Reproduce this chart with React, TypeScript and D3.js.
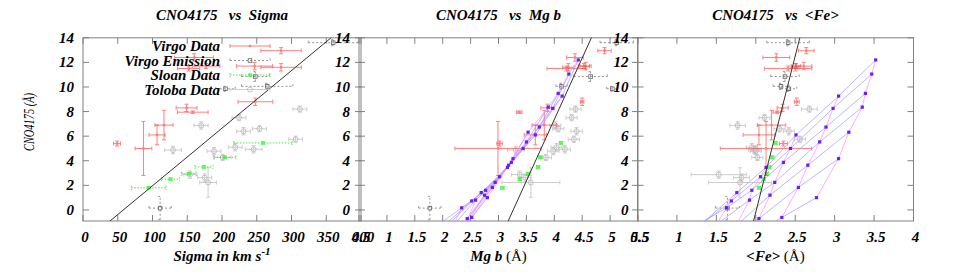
import React, { useRef, useEffect } from "react";
import * as d3 from "d3";

// axis ticks
const cnoTicks = [0, 2, 4, 6, 8, 10, 12, 14];
const sigmaTicks = [0, 50, 100, 150, 200, 250, 300, 350, 400];
const mgbTicks = [0.5, 1, 1.5, 2, 2.5, 3, 3.5, 4, 4.5, 5, 5.5];
const feTicks = [0.5, 1, 1.5, 2, 2.5, 3, 3.5, 4];

const legendLabels = ["Virgo Data", "Virgo Emission", "Sloan Data", "Toloba Data"];

// Virgo data
const virgoCno = [12.95, 12.4, 11.5, 11.7, 11.7, 11.6, 8.8, 8.3, 7.95, 6.9, 6.1, 5.4, 5.0];
const virgoCnoErr = [0.25, 0.3, 0.2, 0.2, 0.3, 0.3, 0.3, 0.3, 0.1, 1.2, 0.8, 0.2, 2.2];
const virgoSigma = [285, 160, 152, 177, 247, 285, 248, 149, 158, 116.5, 106.5, 49, 87];
const virgoSigmaErr = [29, 28, 16, 20, 26, 29, 25, 15, 22, 13, 11.5, 5, 12];
const virgoMgb = [4.9, 4.37, 4.22, 4.53, 4.56, 4.25, 4.5, 3.88, 3.37, 3.82, 3.66, 3.02, 2.99];
const virgoMgbErr = [0.12, 0.15, 0.35, 0.1, 0.1, 0.1, 0.03, 0.12, 0.05, 0.22, 0.2, 0.05, 0.77];
const virgoFe = [2.64, 2.26, 2.41, 2.51, 2.61, 2.5, 2.52, 2.34, 2.27, 2.2, 2.04, 2.35, 2.13];
const virgoFeErr = [0.1, 0.17, 0.3, 0.06, 0.1, 0.05, 0.03, 0.07, 0.05, 0.18, 0.2, 0.05, 0.58];

// Virgo emission
const emisCno = [13.6, 10.85, 10.05, 9.85, 0.15];
const emisCnoErr = [0.25, 0.4, 0.25, 0.2, 0.95];
const emisSigma = [360, 248, 265, 205, 111];
const emisSigmaErr = [36, 20, 37, 14, 16];
const emisMgb = [5.12, 4.65, 4.13, 5.04, 1.77];
const emisMgbErr = [0.3, 0.3, 0.1, 0.1, 0.2];
const emisFe = [2.41, 2.37, 2.32, 2.42, 1.64];
const emisFeErr = [0.27, 0.18, 0.1, 0.1, 0.15];

// Sloan
const sloanCno = [5.45, 4.28, 3.5, 2.95, 2.5, 1.8];
const sloanCnoErr = [0.1, 0.1, 0.1, 0.1, 0.1, 0.1];
const sloanSigma = [259, 204, 174, 152, 126, 94.5];
const sloanSigmaErr = [42, 16, 13, 10.5, 13, 25];
const sloanMgb = [4.12, 3.75, 3.71, 3.53, 3.38, 3.07];
const sloanMgbErr = [0.03, 0.03, 0.03, 0.03, 0.03, 0.03];
const sloanFe = [2.25, 2.21, 2.17, 2.14, 2.1, 2.04];
const sloanFeErr = [0.02, 0.02, 0.02, 0.02, 0.02, 0.02];

// Toloba
const tolobaCno = [8.2, 7.5, 6.87, 6.6, 6.4, 5.75, 4.87, 5.1, 4.93, 4.78, 4.27, 2.87, 2.63, 2.23];
const tolobaCnoErr = [0.25, 0.25, 0.3, 0.25, 0.3, 0.25, 0.3, 0.3, 0.3, 0.3, 0.25, 0.3, 0.3, 1.2];
const tolobaSigma = [312, 224.5, 170, 254, 231, 306, 129.5, 219, 245.5, 188.5, 201, 154, 175, 180];
const tolobaSigmaErr = [10, 10, 10, 10, 10, 10, 12, 10, 12, 10, 12, 10, 10, 12];
const tolobaMgb = [4.38, 4.31, 4.02, 4.07, 4.4, 4.35, 3.31, 4.04, 4.19, 3.98, 3.85, 3.38, 3.48, 3.58];
const tolobaMgbErr = [0.1, 0.1, 0.1, 0.1, 0.1, 0.1, 0.15, 0.1, 0.1, 0.1, 0.1, 0.15, 0.1, 0.52];
const tolobaFe = [2.68, 2.11, 1.77, 2.3, 2.42, 2.56, 1.98, 1.95, 2.0, 2.0, 2.02, 1.53, 1.82, 1.8];
const tolobaFeErr = [0.1, 0.07, 0.1, 0.07, 0.07, 0.07, 0.07, 0.07, 0.07, 0.07, 0.07, 0.35, 0.1, 0.4];

// SSP model grid: rows = metallicity, cols = age
const modelCno = [
  [12.2, 9.26, 6.1, 3.46, 1.41, -1.1],
  [11.05, 8.26, 5.0, 2.7, 0.73, -1.5],
  [9.48, 6.74, 3.87, 1.6, 0.17, -1.4],
  [8.36, 5.53, 2.24, 0.8, -1.2, -2.5],
  [6.32, 3.64, 1.2, -1.3, -2.5, -3.5],
  [4.17, 1.83, -0.7, -2.8, -3.8, -4.5],
  [1.0, -0.61, -2.3, -4, -5, -6],
];
const modelMgb = [
  [4.43, 4.14, 3.66, 3.16, 2.69, 2.12],
  [4.26, 3.97, 3.44, 3.02, 2.52, 1.96],
  [4.07, 3.73, 3.23, 2.77, 2.34, 1.86],
  [3.89, 3.5, 2.94, 2.59, 2.2, 1.8],
  [3.53, 3.18, 2.75, 2.4, 2.1, 1.8],
  [3.26, 2.89, 2.44, 2.2, 2.0, 1.8],
  [2.8, 2.52, 2.3, 2.1, 1.9, 1.8],
];
const modelFe = [
  [3.52, 3.05, 2.51, 2.13, 1.76, 1.32],
  [3.47, 2.98, 2.44, 2.06, 1.69, 1.25],
  [3.39, 2.89, 2.35, 1.95, 1.63, 1.2],
  [3.35, 2.81, 2.24, 1.92, 1.5, 1.2],
  [3.18, 2.66, 2.18, 1.75, 1.5, 1.3],
  [3.05, 2.54, 2.04, 1.7, 1.5, 1.3],
  [2.77, 2.33, 1.9, 1.6, 1.4, 1.3],
];

// linear fits: [intercept, slope]
const fitSigma = [-2.72, 0.04685];
const fitMgb = [-32.6, 9.99];
const fitFe = [-50.98, 25.4];

const FONT = '"Liberation Serif", "Times New Roman", "DejaVu Serif", serif';

const styles = {
  virgo: { color: "#ff4a4a", dash: null, op: 0.7, marker: "dot" },
  emis: { color: "#8a8a8a", dash: "2,2", op: 0.9, marker: "sq" },
  sloan: { color: "#33dd33", dash: "1.5,1.5", op: 0.85, marker: "fsq" },
  toloba: { color: "#c8c8c8", dash: null, op: 0.9, marker: "circ" },
};

// bold italic serif text helper
const label = (sel, size = 15, bold = true, italic = true) =>
  sel
    .style("font-family", FONT)
    .style("font-size", `${size}px`)
    .style("font-weight", bold ? "bold" : "normal")
    .style("font-style", italic ? "italic" : "normal");

const drawMarker = (g, cx, cy, st) => {
  if (st.marker === "dot") {
    g.append("rect").attr("x", cx - 1.2).attr("y", cy - 1.2).attr("width", 2.4).attr("height", 2.4).attr("fill", st.color);
  } else if (st.marker === "sq") {
    g.append("rect").attr("x", cx - 1.8).attr("y", cy - 1.8).attr("width", 3.6).attr("height", 3.6)
      .attr("fill", "none").attr("stroke", "#555").attr("stroke-width", 0.8);
  } else if (st.marker === "fsq") {
    g.append("rect").attr("x", cx - 1.8).attr("y", cy - 1.8).attr("width", 3.6).attr("height", 3.6).attr("fill", "#3f3");
  } else {
    g.append("circle").attr("cx", cx).attr("cy", cy).attr("r", 2.5)
      .attr("fill", "none").attr("stroke", "#b5b5b5").attr("stroke-width", 0.9);
  }
};

const drawErrSet = (g, xv, xe, yv, ye, x, y, st) => {
  const cap = 2;
  xv.forEach((xd, i) => {
    const cx = x(xd), cy = y(yv[i]);
    const x0 = x(xd - xe[i]), x1 = x(xd + xe[i]);
    const y0 = y(yv[i] - ye[i]), y1 = y(yv[i] + ye[i]);
    const segs = [
      [x0, cy, x1, cy], [cx, y0, cx, y1],
      [x0, cy - cap, x0, cy + cap], [x1, cy - cap, x1, cy + cap],
      [cx - cap, y0, cx + cap, y0], [cx - cap, y1, cx + cap, y1],
    ];
    const gg = g.append("g").attr("opacity", st.op);
    gg.selectAll("line").data(segs).enter().append("line")
      .attr("x1", (d) => d[0]).attr("y1", (d) => d[1]).attr("x2", (d) => d[2]).attr("y2", (d) => d[3])
      .attr("stroke", st.color).attr("stroke-width", 1)
      .attr("stroke-dasharray", st.dash);
    drawMarker(gg, cx, cy, st);
  });
};

const App = () => {
  const ref = useRef(null);

  useEffect(() => {
    const svg = d3.select(ref.current);
    svg.selectAll("*").remove();

    const y = d3.scaleLinear().domain([-0.9, 14]).range([221, 37.8]);

    const panels = [
      {
        x: d3.scaleLinear().domain([0, 400]).range([83, 361]),
        ticks: sigmaTicks, title: "CNO4175   vs  Sigma",
        xs: { virgo: [virgoSigma, virgoSigmaErr], emis: [emisSigma, emisSigmaErr], sloan: [sloanSigma, sloanSigmaErr], toloba: [tolobaSigma, tolobaSigmaErr] },
        model: null, fit: fitSigma, key: "sigma",
      },
      {
        x: d3.scaleLinear().domain([0.5, 5.5]).range([359, 638]),
        ticks: mgbTicks, title: "CNO4175   vs  Mg b",
        xs: { virgo: [virgoMgb, virgoMgbErr], emis: [emisMgb, emisMgbErr], sloan: [sloanMgb, sloanMgbErr], toloba: [tolobaMgb, tolobaMgbErr] },
        model: modelMgb, fit: fitMgb, key: "mgb",
      },
      {
        x: d3.scaleLinear().domain([0.5, 4]).range([637.5, 913.5]),
        ticks: feTicks, title: "CNO4175   vs  <Fe>",
        xs: { virgo: [virgoFe, virgoFeErr], emis: [emisFe, emisFeErr], sloan: [sloanFe, sloanFeErr], toloba: [tolobaFe, tolobaFeErr] },
        model: modelFe, fit: fitFe, key: "fe",
      },
    ];
    const ys = { virgo: [virgoCno, virgoCnoErr], emis: [emisCno, emisCnoErr], sloan: [sloanCno, sloanCnoErr], toloba: [tolobaCno, tolobaCnoErr] };

    const defs = svg.append("defs");

    panels.forEach((p, pi) => {
      const [l, r] = p.x.range();
      const top = y(14), bot = y(-0.9);
      const g = svg.append("g");
      const clipId = `clip${pi}`;
      defs.append("clipPath").attr("id", clipId).append("rect")
        .attr("x", l).attr("y", top).attr("width", r - l).attr("height", bot - top);

      // frame + ticks
      g.append("rect").attr("x", l).attr("y", top).attr("width", r - l).attr("height", bot - top)
        .attr("fill", "none").attr("stroke", "#808080").attr("stroke-width", 1);
      const tl = 6;
      p.ticks.forEach((t) => {
        const tx = p.x(t);
        g.append("line").attr("x1", tx).attr("x2", tx).attr("y1", bot).attr("y2", bot - tl).attr("stroke", "#808080");
        g.append("line").attr("x1", tx).attr("x2", tx).attr("y1", top).attr("y2", top + tl).attr("stroke", "#808080");
        label(g.append("text").attr("x", tx + 2).attr("y", 242).attr("text-anchor", "middle")).text(t);
      });
      cnoTicks.forEach((t) => {
        const ty = y(t);
        g.append("line").attr("x1", l).attr("x2", l + tl).attr("y1", ty).attr("y2", ty).attr("stroke", "#808080");
        g.append("line").attr("x1", r).attr("x2", r - tl).attr("y1", ty).attr("y2", ty).attr("stroke", "#808080");
        label(g.append("text").attr("x", l - 9).attr("y", ty + 5).attr("text-anchor", "end")).text(t);
      });

      // title
      label(g.append("text").attr("x", (l + r) / 2).attr("y", 20).attr("text-anchor", "middle"))
        .style("white-space", "pre")
        .text(p.title);

      // x label
      const xl = label(g.append("text").attr("x", (l + r) / 2).attr("y", 261).attr("text-anchor", "middle"), 15, false, false);
      if (p.key === "sigma") {
        label(xl.append("tspan")).text("Sigma in km s");
        label(xl.append("tspan"), 11).attr("dy", -6).text("-1");
      } else if (p.key === "mgb") {
        label(xl.append("tspan")).text("Mg b ");
        xl.append("tspan").text("(Å)");
      } else {
        label(xl.append("tspan")).text("<Fe> ");
        xl.append("tspan").text("(Å)");
      }

      // data
      const dg = g.append("g").attr("clip-path", `url(#${clipId})`);
      ["toloba", "emis", "sloan", "virgo"].forEach((k) => {
        drawErrSet(dg, p.xs[k][0], p.xs[k][1], ys[k][0], ys[k][1], p.x, y, styles[k]);
      });

      // model grid
      if (p.model) {
        const mx = p.model;
        const line = d3.line().x((d) => p.x(d[0])).y((d) => y(d[1]));
        // constant metallicity (blue)
        mx.forEach((row, ri) => {
          dg.append("path").attr("d", line(row.map((v, ci) => [v, modelCno[ri][ci]])))
            .attr("fill", "none").attr("stroke", "#9a9aff").attr("stroke-width", 0.7);
        });
        // constant age (magenta)
        mx[0].forEach((_, ci) => {
          dg.append("path").attr("d", line(mx.map((row, ri) => [row[ci], modelCno[ri][ci]])))
            .attr("fill", "none").attr("stroke", "#ff88ff").attr("stroke-width", 0.7);
        });
        mx.forEach((row, ri) => row.forEach((v, ci) => {
          dg.append("rect").attr("x", p.x(v) - 1.6).attr("y", y(modelCno[ri][ci]) - 1.6)
            .attr("width", 3.2).attr("height", 3.2).attr("fill", "#6a1bff");
        }));
      }

      // fit line
      const [x0, x1] = p.x.domain();
      dg.append("line")
        .attr("x1", p.x(x0)).attr("y1", y(p.fit[0] + p.fit[1] * x0))
        .attr("x2", p.x(x1)).attr("y2", y(p.fit[0] + p.fit[1] * x1))
        .attr("stroke", "#333").attr("stroke-width", 1);

      // legend in first panel
      if (pi === 0) {
        const keys = ["virgo", "emis", "sloan", "toloba"];
        legendLabels.forEach((lab, i) => {
          const ly = 46 + i * 14.5;
          label(g.append("text").attr("x", 220).attr("y", ly + 5).attr("text-anchor", "end"), 15).text(lab);
          const st = styles[keys[i]];
          const lg = g.append("g").attr("opacity", st.op);
          [[230, ly, 270, ly], [230, ly - 2, 230, ly + 2], [270, ly - 2, 270, ly + 2]].forEach((s) => {
            lg.append("line").attr("x1", s[0]).attr("y1", s[1]).attr("x2", s[2]).attr("y2", s[3])
              .attr("stroke", st.color).attr("stroke-dasharray", st.dash);
          });
          drawMarker(lg, 250, ly, st);
        });
      }
    });

    // y label
    label(svg.append("text").attr("transform", "translate(34,122) rotate(-90)").attr("text-anchor", "middle"), 15, false, true)
      .attr("textLength", 58).attr("lengthAdjust", "spacingAndGlyphs")
      .text("CNO4175 (Å)");
  }, []);

  return (
    <svg ref={ref} width={969} height={277}
      style={{ position: "absolute", left: 0, top: 0, background: "#fff" }} />
  );
};

export default App;
